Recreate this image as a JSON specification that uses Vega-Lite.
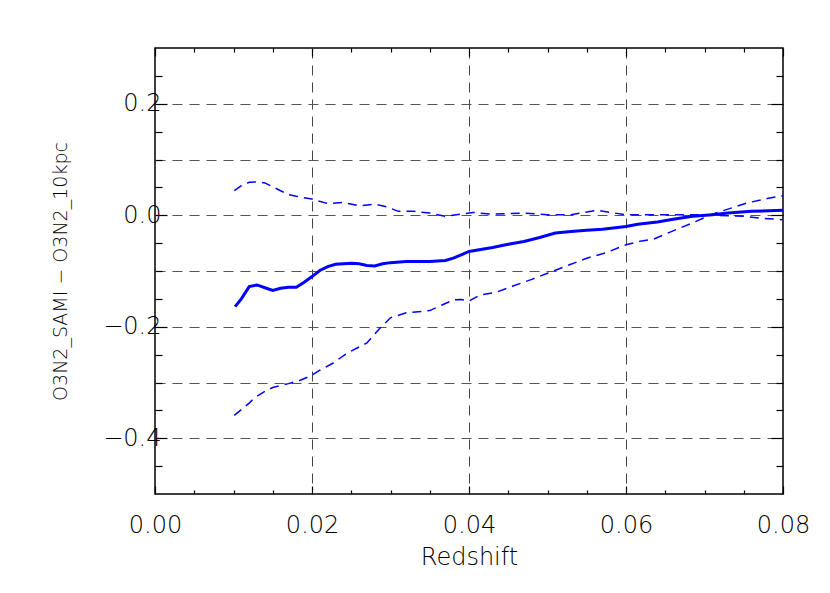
{
  "$schema": "https://vega.github.io/schema/vega-lite/v6.json",
  "width": 628,
  "height": 446,
  "autosize": "none",
  "padding": {"left": 155, "top": 48, "right": 47, "bottom": 99},
  "background": "white",
  "config": {
    "font": "DejaVu Sans",
    "view": {"stroke": "black", "strokeWidth": 1.5},
    "axis": {"domain": false, "tickColor": "black", "tickWidth": 1.2, "labelFont": "DejaVu Sans", "labelFontSize": 24, "labelFontWeight": 200, "labelColor": "black", "titleFont": "DejaVu Sans", "titleFontSize": 24, "titleFontWeight": 200, "titleColor": "black"}
  },
  "data": {"values": [
    {"s": "median", "z": 0.0102, "d": -0.164},
    {"s": "median", "z": 0.011, "d": -0.150},
    {"s": "median", "z": 0.012, "d": -0.128},
    {"s": "median", "z": 0.013, "d": -0.125},
    {"s": "median", "z": 0.014, "d": -0.130},
    {"s": "median", "z": 0.015, "d": -0.135},
    {"s": "median", "z": 0.016, "d": -0.131},
    {"s": "median", "z": 0.017, "d": -0.129},
    {"s": "median", "z": 0.018, "d": -0.129},
    {"s": "median", "z": 0.019, "d": -0.120},
    {"s": "median", "z": 0.020, "d": -0.110},
    {"s": "median", "z": 0.021, "d": -0.099},
    {"s": "median", "z": 0.022, "d": -0.092},
    {"s": "median", "z": 0.023, "d": -0.088},
    {"s": "median", "z": 0.025, "d": -0.086},
    {"s": "median", "z": 0.026, "d": -0.087},
    {"s": "median", "z": 0.027, "d": -0.090},
    {"s": "median", "z": 0.028, "d": -0.091},
    {"s": "median", "z": 0.029, "d": -0.087},
    {"s": "median", "z": 0.030, "d": -0.085},
    {"s": "median", "z": 0.032, "d": -0.083},
    {"s": "median", "z": 0.035, "d": -0.083},
    {"s": "median", "z": 0.037, "d": -0.081},
    {"s": "median", "z": 0.038, "d": -0.077},
    {"s": "median", "z": 0.039, "d": -0.071},
    {"s": "median", "z": 0.040, "d": -0.065},
    {"s": "median", "z": 0.043, "d": -0.058},
    {"s": "median", "z": 0.045, "d": -0.052},
    {"s": "median", "z": 0.047, "d": -0.047},
    {"s": "median", "z": 0.049, "d": -0.040},
    {"s": "median", "z": 0.051, "d": -0.032},
    {"s": "median", "z": 0.053, "d": -0.029},
    {"s": "median", "z": 0.055, "d": -0.027},
    {"s": "median", "z": 0.057, "d": -0.025},
    {"s": "median", "z": 0.060, "d": -0.020},
    {"s": "median", "z": 0.0615, "d": -0.016},
    {"s": "median", "z": 0.064, "d": -0.012},
    {"s": "median", "z": 0.066, "d": -0.007},
    {"s": "median", "z": 0.0685, "d": -0.002},
    {"s": "median", "z": 0.071, "d": 0.001},
    {"s": "median", "z": 0.073, "d": 0.004},
    {"s": "median", "z": 0.076, "d": 0.007},
    {"s": "median", "z": 0.080, "d": 0.009},
    {"s": "upper", "z": 0.0101, "d": 0.044},
    {"s": "upper", "z": 0.011, "d": 0.053},
    {"s": "upper", "z": 0.012, "d": 0.059},
    {"s": "upper", "z": 0.013, "d": 0.060},
    {"s": "upper", "z": 0.014, "d": 0.058},
    {"s": "upper", "z": 0.015, "d": 0.051},
    {"s": "upper", "z": 0.016, "d": 0.044},
    {"s": "upper", "z": 0.017, "d": 0.037},
    {"s": "upper", "z": 0.018, "d": 0.034},
    {"s": "upper", "z": 0.020, "d": 0.029},
    {"s": "upper", "z": 0.022, "d": 0.021},
    {"s": "upper", "z": 0.024, "d": 0.023},
    {"s": "upper", "z": 0.026, "d": 0.017},
    {"s": "upper", "z": 0.028, "d": 0.020},
    {"s": "upper", "z": 0.0295, "d": 0.015},
    {"s": "upper", "z": 0.031, "d": 0.007},
    {"s": "upper", "z": 0.033, "d": 0.007},
    {"s": "upper", "z": 0.035, "d": 0.004},
    {"s": "upper", "z": 0.037, "d": -0.002},
    {"s": "upper", "z": 0.039, "d": 0.002},
    {"s": "upper", "z": 0.0405, "d": 0.005},
    {"s": "upper", "z": 0.043, "d": 0.002},
    {"s": "upper", "z": 0.047, "d": 0.004},
    {"s": "upper", "z": 0.050, "d": 0.001},
    {"s": "upper", "z": 0.053, "d": 0.001},
    {"s": "upper", "z": 0.055, "d": 0.006},
    {"s": "upper", "z": 0.0563, "d": 0.009},
    {"s": "upper", "z": 0.058, "d": 0.005},
    {"s": "upper", "z": 0.060, "d": 0.001},
    {"s": "upper", "z": 0.063, "d": 0.001},
    {"s": "upper", "z": 0.069, "d": 0.001},
    {"s": "upper", "z": 0.073, "d": -0.001},
    {"s": "upper", "z": 0.075, "d": -0.002},
    {"s": "upper", "z": 0.077, "d": -0.005},
    {"s": "upper", "z": 0.080, "d": -0.008},
    {"s": "lower", "z": 0.0101, "d": -0.359},
    {"s": "lower", "z": 0.012, "d": -0.337},
    {"s": "lower", "z": 0.0127, "d": -0.327},
    {"s": "lower", "z": 0.014, "d": -0.316},
    {"s": "lower", "z": 0.015, "d": -0.309},
    {"s": "lower", "z": 0.017, "d": -0.302},
    {"s": "lower", "z": 0.0185, "d": -0.296},
    {"s": "lower", "z": 0.020, "d": -0.287},
    {"s": "lower", "z": 0.021, "d": -0.278},
    {"s": "lower", "z": 0.0227, "d": -0.265},
    {"s": "lower", "z": 0.0244, "d": -0.248},
    {"s": "lower", "z": 0.027, "d": -0.229},
    {"s": "lower", "z": 0.0287, "d": -0.202},
    {"s": "lower", "z": 0.030, "d": -0.184},
    {"s": "lower", "z": 0.032, "d": -0.175},
    {"s": "lower", "z": 0.035, "d": -0.171},
    {"s": "lower", "z": 0.0367, "d": -0.160},
    {"s": "lower", "z": 0.038, "d": -0.152},
    {"s": "lower", "z": 0.039, "d": -0.151},
    {"s": "lower", "z": 0.040, "d": -0.154},
    {"s": "lower", "z": 0.0414, "d": -0.143},
    {"s": "lower", "z": 0.0435, "d": -0.138},
    {"s": "lower", "z": 0.0456, "d": -0.127},
    {"s": "lower", "z": 0.048, "d": -0.115},
    {"s": "lower", "z": 0.050, "d": -0.104},
    {"s": "lower", "z": 0.0524, "d": -0.091},
    {"s": "lower", "z": 0.055, "d": -0.077},
    {"s": "lower", "z": 0.0575, "d": -0.067},
    {"s": "lower", "z": 0.060, "d": -0.053},
    {"s": "lower", "z": 0.062, "d": -0.046},
    {"s": "lower", "z": 0.0635, "d": -0.043},
    {"s": "lower", "z": 0.066, "d": -0.028},
    {"s": "lower", "z": 0.0686, "d": -0.013},
    {"s": "lower", "z": 0.071, "d": 0.002},
    {"s": "lower", "z": 0.073, "d": 0.011},
    {"s": "lower", "z": 0.0754, "d": 0.022},
    {"s": "lower", "z": 0.078, "d": 0.030},
    {"s": "lower", "z": 0.080, "d": 0.035}
  ]},
  "layer": [
    {
      "transform": [{"filter": "datum.s === 'median'"}],
      "mark": {"type": "line", "color": "#0000ff", "strokeWidth": 3, "clip": true},
      "encoding": {
        "x": {"field": "z", "type": "quantitative", "scale": {"domain": [0, 0.08], "nice": false, "zero": false},
          "axis": {"orient": "bottom", "values": [0, 0.02, 0.04, 0.06, 0.08], "format": ".2f", "tickSize": -8, "labelPadding": 27, "labelFlush": false,
            "grid": true, "gridColor": "#444", "gridDash": [10, 7], "gridWidth": 1,
            "gridOpacity": {"condition": {"test": "datum.value > 0.001 && datum.value < 0.079", "value": 1}, "value": 0},
            "title": "Redshift", "titlePadding": 8}},
        "y": {"field": "d", "type": "quantitative", "scale": {"domain": [-0.5, 0.3], "nice": false, "zero": false},
          "axis": {"orient": "left", "values": [-0.4, -0.3, -0.2, -0.1, 0, 0.1, 0.2], "format": ".1f", "tickSize": -12, "labelPadding": 6,
            "tickOpacity": {"condition": {"test": "abs(datum.value*5 - round(datum.value*5)) < 0.001", "value": 1}, "value": 0},
            "labelExpr": "abs(datum.value*5 - round(datum.value*5)) < 0.001 ? datum.label : ''",
            "grid": true, "gridColor": "#555", "gridDash": [10, 7], "gridWidth": 1,
            "title": "O3N2_SAMI − O3N2_10kpc", "titleFontSize": 19, "titlePadding": 32}}
      }
    },
    {
      "transform": [{"filter": "datum.s === 'upper'"}],
      "mark": {"type": "line", "color": "#0000ff", "strokeWidth": 1.5, "strokeDash": [9, 6], "clip": true},
      "encoding": {
        "x": {"field": "z", "type": "quantitative", "scale": {"domain": [0, 0.08], "nice": false, "zero": false},
          "axis": {"orient": "top", "values": [0, 0.02, 0.04, 0.06, 0.08], "tickSize": -8, "labels": false, "grid": false, "title": null}},
        "y": {"field": "d", "type": "quantitative", "scale": {"domain": [-0.5, 0.3], "nice": false, "zero": false},
          "axis": {"orient": "right", "values": [-0.4, -0.2, 0, 0.2], "tickSize": -12, "labels": false, "grid": false, "title": null}}
      }
    },
    {
      "transform": [{"filter": "datum.s === 'lower'"}],
      "mark": {"type": "line", "color": "#0000ff", "strokeWidth": 1.5, "strokeDash": [9, 6], "clip": true},
      "encoding": {
        "x": {"field": "z", "type": "quantitative", "scale": {"domain": [0, 0.08], "nice": false, "zero": false},
          "axis": {"orient": "bottom", "values": [0.005, 0.01, 0.015, 0.025, 0.03, 0.035, 0.045, 0.05, 0.055, 0.065, 0.07, 0.075], "tickSize": -4, "labels": false, "grid": false, "title": null}},
        "y": {"field": "d", "type": "quantitative", "scale": {"domain": [-0.5, 0.3], "nice": false, "zero": false},
          "axis": {"orient": "left", "values": [-0.45, -0.35, -0.3, -0.25, -0.15, -0.1, -0.05, 0.05, 0.1, 0.15, 0.25], "tickSize": -7, "labels": false, "grid": false, "title": null}}
      }
    },
    {
      "transform": [{"filter": "datum.s === 'lower'"}],
      "mark": {"type": "line", "opacity": 0},
      "encoding": {
        "x": {"field": "z", "type": "quantitative", "scale": {"domain": [0, 0.08], "nice": false, "zero": false},
          "axis": {"orient": "top", "values": [0.005, 0.01, 0.015, 0.025, 0.03, 0.035, 0.045, 0.05, 0.055, 0.065, 0.07, 0.075], "tickSize": -4, "labels": false, "grid": false, "title": null}},
        "y": {"field": "d", "type": "quantitative", "scale": {"domain": [-0.5, 0.3], "nice": false, "zero": false},
          "axis": {"orient": "right", "values": [-0.45, -0.35, -0.3, -0.25, -0.15, -0.1, -0.05, 0.05, 0.1, 0.15, 0.25], "tickSize": -7, "labels": false, "grid": false, "title": null}}
      }
    }
  ],
  "resolve": {"axis": {"x": "independent", "y": "independent"}}
}
